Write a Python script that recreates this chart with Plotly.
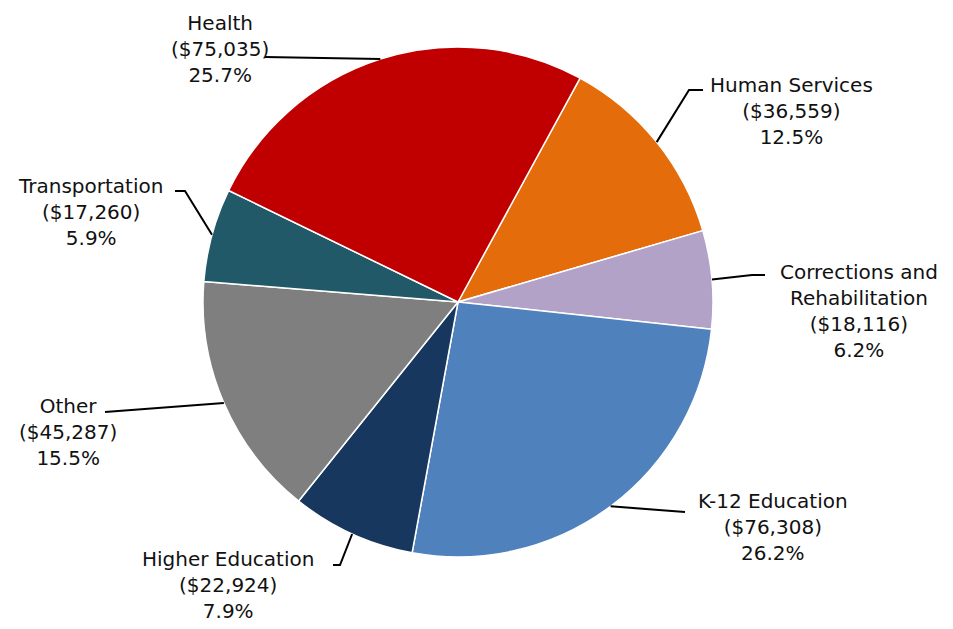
import math
import plotly.graph_objects as go

# ---- data ----
categories = ["Human Services", "Corrections and<br>Rehabilitation", "K-12 Education",
              "Higher Education", "Other", "Transportation", "Health"]
values = [36559, 18116, 76308, 22924, 45287, 17260, 75035]
colors = ["#E46C0A", "#B3A2C7", "#4F81BD", "#17375E", "#7F7F7F", "#215968", "#C00000"]

# ---- layout geometry (pixels in the page; the page body has an 8px margin) ----
W, H = 953, 629
OFF = 8
CX, CY, R = 458, 302, 255
ROTATION = 28.6

# label centres (px) and leader-line elbow/end points (px), page coordinates
label_pos = [(791, 111), (859, 311), (773, 527), (228, 585), (68, 432), (90, 212), (220, 49)]
leader = [
    [(689, 90), (703, 90)],
    [(752, 275), (765, 275)],
    [(685, 512)],
    [(340, 565), (333, 565)],
    [(105, 412)],
    [(185, 191), (175, 191)],
    [(265, 57)],
]

total = sum(values)

def px(x, y):
    return (x - OFF) / W, 1 - (y - OFF) / H

x0, y1 = px(CX - R, CY - R)
x1, y0 = px(CX + R, CY + R)

fig = go.Figure(go.Pie(
    labels=categories,
    values=values,
    sort=False,
    direction="clockwise",
    rotation=ROTATION,
    marker=dict(colors=colors, line=dict(color="white", width=1.5)),
    textinfo="none",
    hoverinfo="label+value+percent",
    domain=dict(x=[x0, x1], y=[y0, y1]),
))

shapes = []
annotations = []
cum = 0
for cat, v, (lx, ly), pts in zip(categories, values, label_pos, leader):
    mid = math.radians(ROTATION + (cum + v / 2) / total * 360)
    cum += v
    ex, ey = CX + R * math.sin(mid), CY - R * math.cos(mid)
    path_pts = [(ex, ey)] + pts
    d = "M " + " L ".join(f"{px(x, y)[0]:.5f},{px(x, y)[1]:.5f}" for x, y in path_pts)
    shapes.append(dict(type="path", path=d, xref="paper", yref="paper",
                       line=dict(color="black", width=2)))
    ax, ay = px(lx, ly)
    annotations.append(dict(
        x=ax, y=ay, xref="paper", yref="paper", xanchor="center", yanchor="middle",
        showarrow=False, align="center",
        text=f"{cat}<br>(${v:,})<br>{v / total * 100:.1f}%",
        font=dict(family="DejaVu Sans", size=20, color="#111111"),
    ))

fig.update_layout(
    width=W, height=H,
    margin=dict(l=0, r=0, t=0, b=0),
    showlegend=False,
    paper_bgcolor="white",
    plot_bgcolor="white",
    shapes=shapes,
    annotations=annotations,
)

fig.write_html("out.html")
